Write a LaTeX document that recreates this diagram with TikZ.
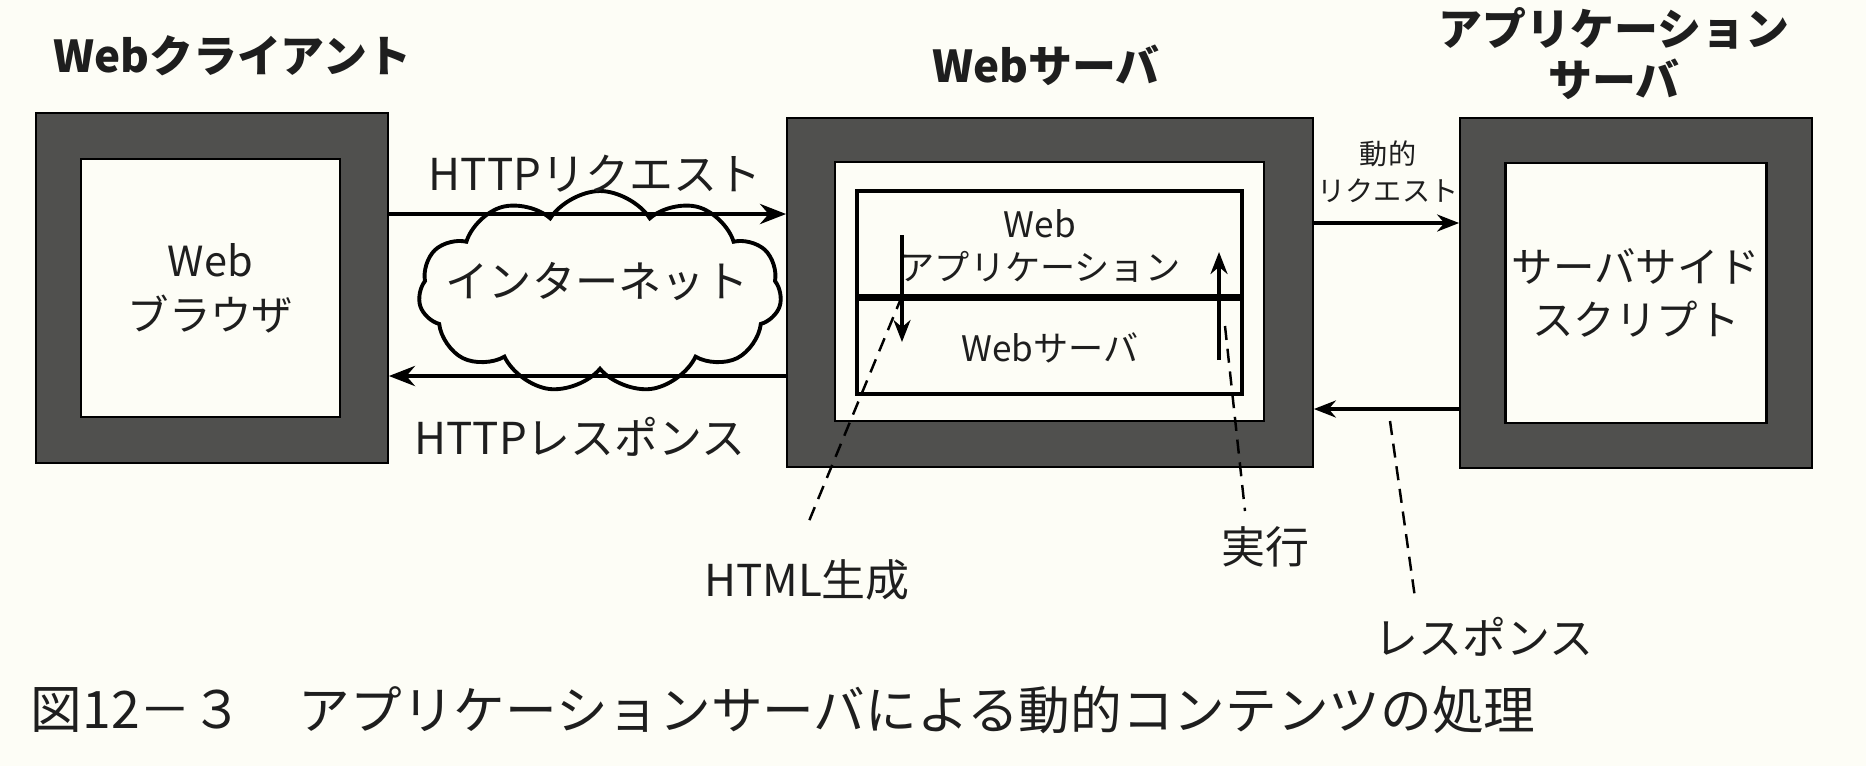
\documentclass[tikz,border=0pt]{standalone}
\usepackage{fontspec}
\setmainfont{Noto Sans CJK JP}
\usetikzlibrary{shapes,arrows.meta,positioning,shapes.symbols}

\definecolor{paper}{RGB}{253,253,246}
\definecolor{frame}{RGB}{80,80,78}
\definecolor{ink}{RGB}{30,30,30}
\newcommand\bodytxt{\fontsize{11.8}{15.3}\selectfont}
\newcommand\calltxt{\fontsize{12.5}{15}\selectfont}
\newcommand\smalltxt{\fontsize{10}{12.5}\selectfont}
\newcommand\tinytxt{\fontsize{8}{10.5}\selectfont}
\newcommand\titletxt{\fontsize{12.5}{14.5}\selectfont\bfseries}
\newcommand\captxt{\fontsize{14.7}{17}\selectfont}

\begin{document}
\begin{tikzpicture}[x=0.1mm, y=-0.1mm, text=ink,
  outerbox/.style={draw=black, line width=0.5pt, fill=frame, inner sep=0pt},
  innerbox/.style={draw=black, line width=0.8pt, fill=paper, inner sep=0pt,
    align=center, font=\bodytxt},
  ttl/.style={font=\titletxt, align=center, inner sep=0pt},
  txt/.style={font=\bodytxt, align=center, inner sep=0pt},
  flow/.style={-{Stealth[length=2.6mm,width=2mm]}, line width=1.3pt},
  flowthin/.style={-{Stealth[length=2.2mm,width=1.7mm]}, line width=1pt},
  leader/.style={dashed, dash pattern=on 4pt off 2.5pt, line width=0.7pt}
]
  \fill[paper] (0,0) rectangle (1866,766);
  \useasboundingbox (0,0) rectangle (1866,766);

  % Web client
  \node[ttl] (ttlclient) at (232,56) {Webクライアント};
  \node[outerbox, minimum width=35.2mm, minimum height=35mm] (client) at (212,288) {};
  \node[innerbox, minimum width=25.9mm, minimum height=25.8mm] (browser) at (210.5,288)
    {Web\\ブラウザ};

  % internet
  \node[cloud, cloud puffs=11, cloud puff arc=115, draw, fill=paper, line width=1.1pt,
    minimum width=36.3mm, minimum height=20.2mm] (net) at (600,292) {};
  \node[txt, font=\fontsize{12.3}{15}\selectfont] (nettxt) at (597,282) {インターネット};

  % Web server
  \node[ttl] (ttlweb) at (1046,65) {Webサーバ};
  \node[outerbox, minimum width=52.6mm, minimum height=34.9mm] (websrv) at (1050,292.5) {};
  \node[innerbox, minimum width=42.9mm, minimum height=25.9mm] (webin) at (1049.5,291.5) {};
  \node[draw, line width=1.1pt, inner sep=0pt, minimum width=38.5mm, minimum height=20.3mm]
    (appframe) at (1049.5,292.5) {};
  \draw[line width=2pt] ([yshift=-0.45mm]appframe.west) -- ([yshift=-0.45mm]appframe.east);
  \node[txt, font=\smalltxt] (webapp) at (1040,246) {Web\\アプリケーション};
  \node[txt, font=\smalltxt] (websw) at (1050,348) {Webサーバ};

  % application server
  \node[ttl] (ttlapp) at (1614,54) {アプリケーション\\サーバ};
  \node[outerbox, minimum width=35.2mm, minimum height=35mm] (appsrv) at (1636,293) {};
  \node[innerbox, minimum width=26.1mm, minimum height=26mm] (script) at (1636,293)
    {サーバサイド\\スクリプト};

  % HTTP
  \node[txt, font=\fontsize{12.5}{15}\selectfont] (req) at (595,174) {HTTPリクエスト};
  \node[txt, font=\fontsize{12.5}{15}\selectfont] (res) at (580,437) {HTTPレスポンス};
  \draw[flow] ([yshift=7.4mm]client.east) -- ([yshift=7.4mm]client.east -| websrv.west);
  \draw[flow] ([yshift=-8.8mm]client.east -| websrv.west) -- ([yshift=-8.8mm]client.east);

  % dynamic request / response
  \node[txt, font=\tinytxt] (dyn) at (1388,172) {動的\\リクエスト};
  \draw[flowthin] ([yshift=6.95mm]websrv.east) -- ([yshift=6.95mm]websrv.east -| appsrv.west);
  \draw[flowthin] ([yshift=-11.65mm]websrv.east -| appsrv.west) -- ([yshift=-11.65mm]websrv.east);

  % inside the web server
  \coordinate (gtop) at (902,235);
  \coordinate (gbot) at (902,342);
  \coordinate (gmid) at (902,296);
  \coordinate (xbot) at (1219,360);
  \coordinate (xtop) at (1219,252);
  \coordinate (xmid) at (1225,326);
  \coordinate (rmid) at (1390,421);
  \draw[flowthin] (gtop) -- (gbot);
  \draw[flowthin] (xbot) -- (xtop);

  % callouts
  \node[txt, font=\calltxt] (html) at (807,580) {HTML生成};
  \node[txt, font=\calltxt] (exec) at (1265,547) {実行};
  \node[txt, font=\calltxt] (resp) at (1484,637) {レスポンス};
  \draw[leader] (gmid) -- ([yshift=3.3mm]html.north);
  \draw[leader] (xmid) -- ([xshift=-2mm,yshift=1.5mm]exec.north);
  \draw[leader] (rmid) -- ([xshift=-6.9mm,yshift=1.9mm]resp.north);

  % caption
  \node[anchor=west, font=\captxt, inner sep=0pt] (capnum) at (30,710) {図12－３};
  \node[anchor=west, font=\captxt, inner sep=0pt] (cap) at (298,710)
    {アプリケーションサーバによる動的コンテンツの処理};
\end{tikzpicture}
\end{document}
